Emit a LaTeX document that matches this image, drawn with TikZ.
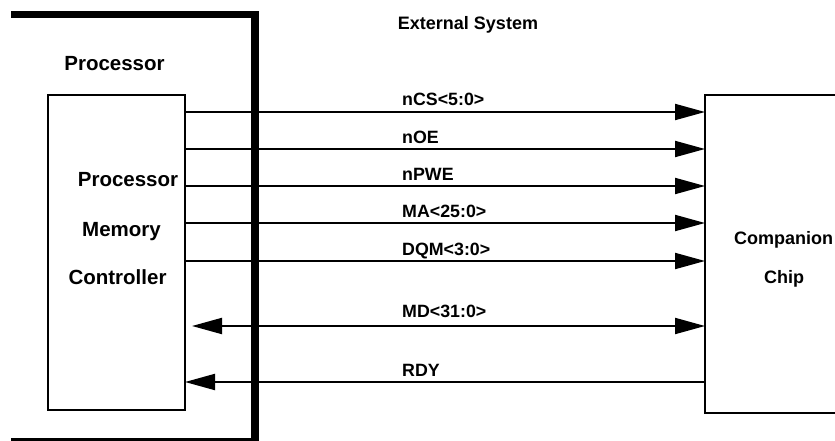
\documentclass[tikz,border=0pt]{standalone}
\usepackage{fontspec}
\setmainfont{Liberation Sans}
\usetikzlibrary{arrows.meta}
\tikzset{sighead/.tip={Triangle[length=30pt,width=16pt]}}
\begin{document}
\begin{tikzpicture}[x=1pt,y=-1pt,
  box/.style={draw, line width=2pt, outer sep=0pt, inner sep=0pt, anchor=north west},
  sig/.style={line width=2pt},
  lbl/.style={font=\fontsize{17.8}{20}\selectfont\bfseries, anchor=base west, inner sep=0pt},
  title/.style={font=\fontsize{20.5}{24}\selectfont\bfseries, anchor=base, inner sep=0pt},
  ctitle/.style={font=\fontsize{18}{22}\selectfont\bfseries, anchor=base, inner sep=0pt},
]
\clip (0,0) rectangle (835,441);

% processor boundary
\draw[line width=7.5pt] (11,14.5) -| (255,450);
\draw[line width=3pt] (11,439) -- (255,439);

% boxes
\node[box, minimum width=137pt, minimum height=315pt] (proc) at (48,95) {};
\node[box, minimum width=150pt, minimum height=318pt] (chip) at (705,95) {};

% titles
\node[ctitle] (ext) at (468,29.5) {External System};
\node[title] (ptitle) at (114.5,70.5) {Processor};
\node[title] (pm1) at (128,186) {Processor};
\node[title] (pm2) at (121.5,236) {Memory};
\node[title] (pm3) at (117.5,284) {Controller};
\node[ctitle] (cc1) at (783.5,244) {Companion};
\node[ctitle] (cc2) at (784,283) {Chip};

% outgoing signals
\draw[sig, -sighead] (proc.east |- 0,112) -- (chip.west |- 0,112);
\draw[sig, -sighead] (proc.east |- 0,149) -- (chip.west |- 0,149);
\draw[sig, -sighead] (proc.east |- 0,186) -- (chip.west |- 0,186);
\draw[sig, -sighead] (proc.east |- 0,223) -- (chip.west |- 0,223);
\draw[sig, -sighead] (proc.east |- 0,261) -- (chip.west |- 0,261);
% data bus and ready
\draw[sig, sighead-sighead, shorten <=7pt] (proc.east |- 0,326) -- (chip.west |- 0,326);
\draw[sig, sighead-] (proc.east |- 0,382) -- (chip.west |- 0,382);

% signal labels
\node[lbl] (l1) at (402,106) {nCS<5:0>};
\node[lbl] (l2) at (402,143) {nOE};
\node[lbl] (l3) at (402,180) {nPWE};
\node[lbl] (l4) at (402,217) {MA<25:0>};
\node[lbl] (l5) at (402,255) {DQM<3:0>};
\node[lbl] (l6) at (402,317) {MD<31:0>};
\node[lbl] (l7) at (402,376) {RDY};
\end{tikzpicture}
\end{document}
